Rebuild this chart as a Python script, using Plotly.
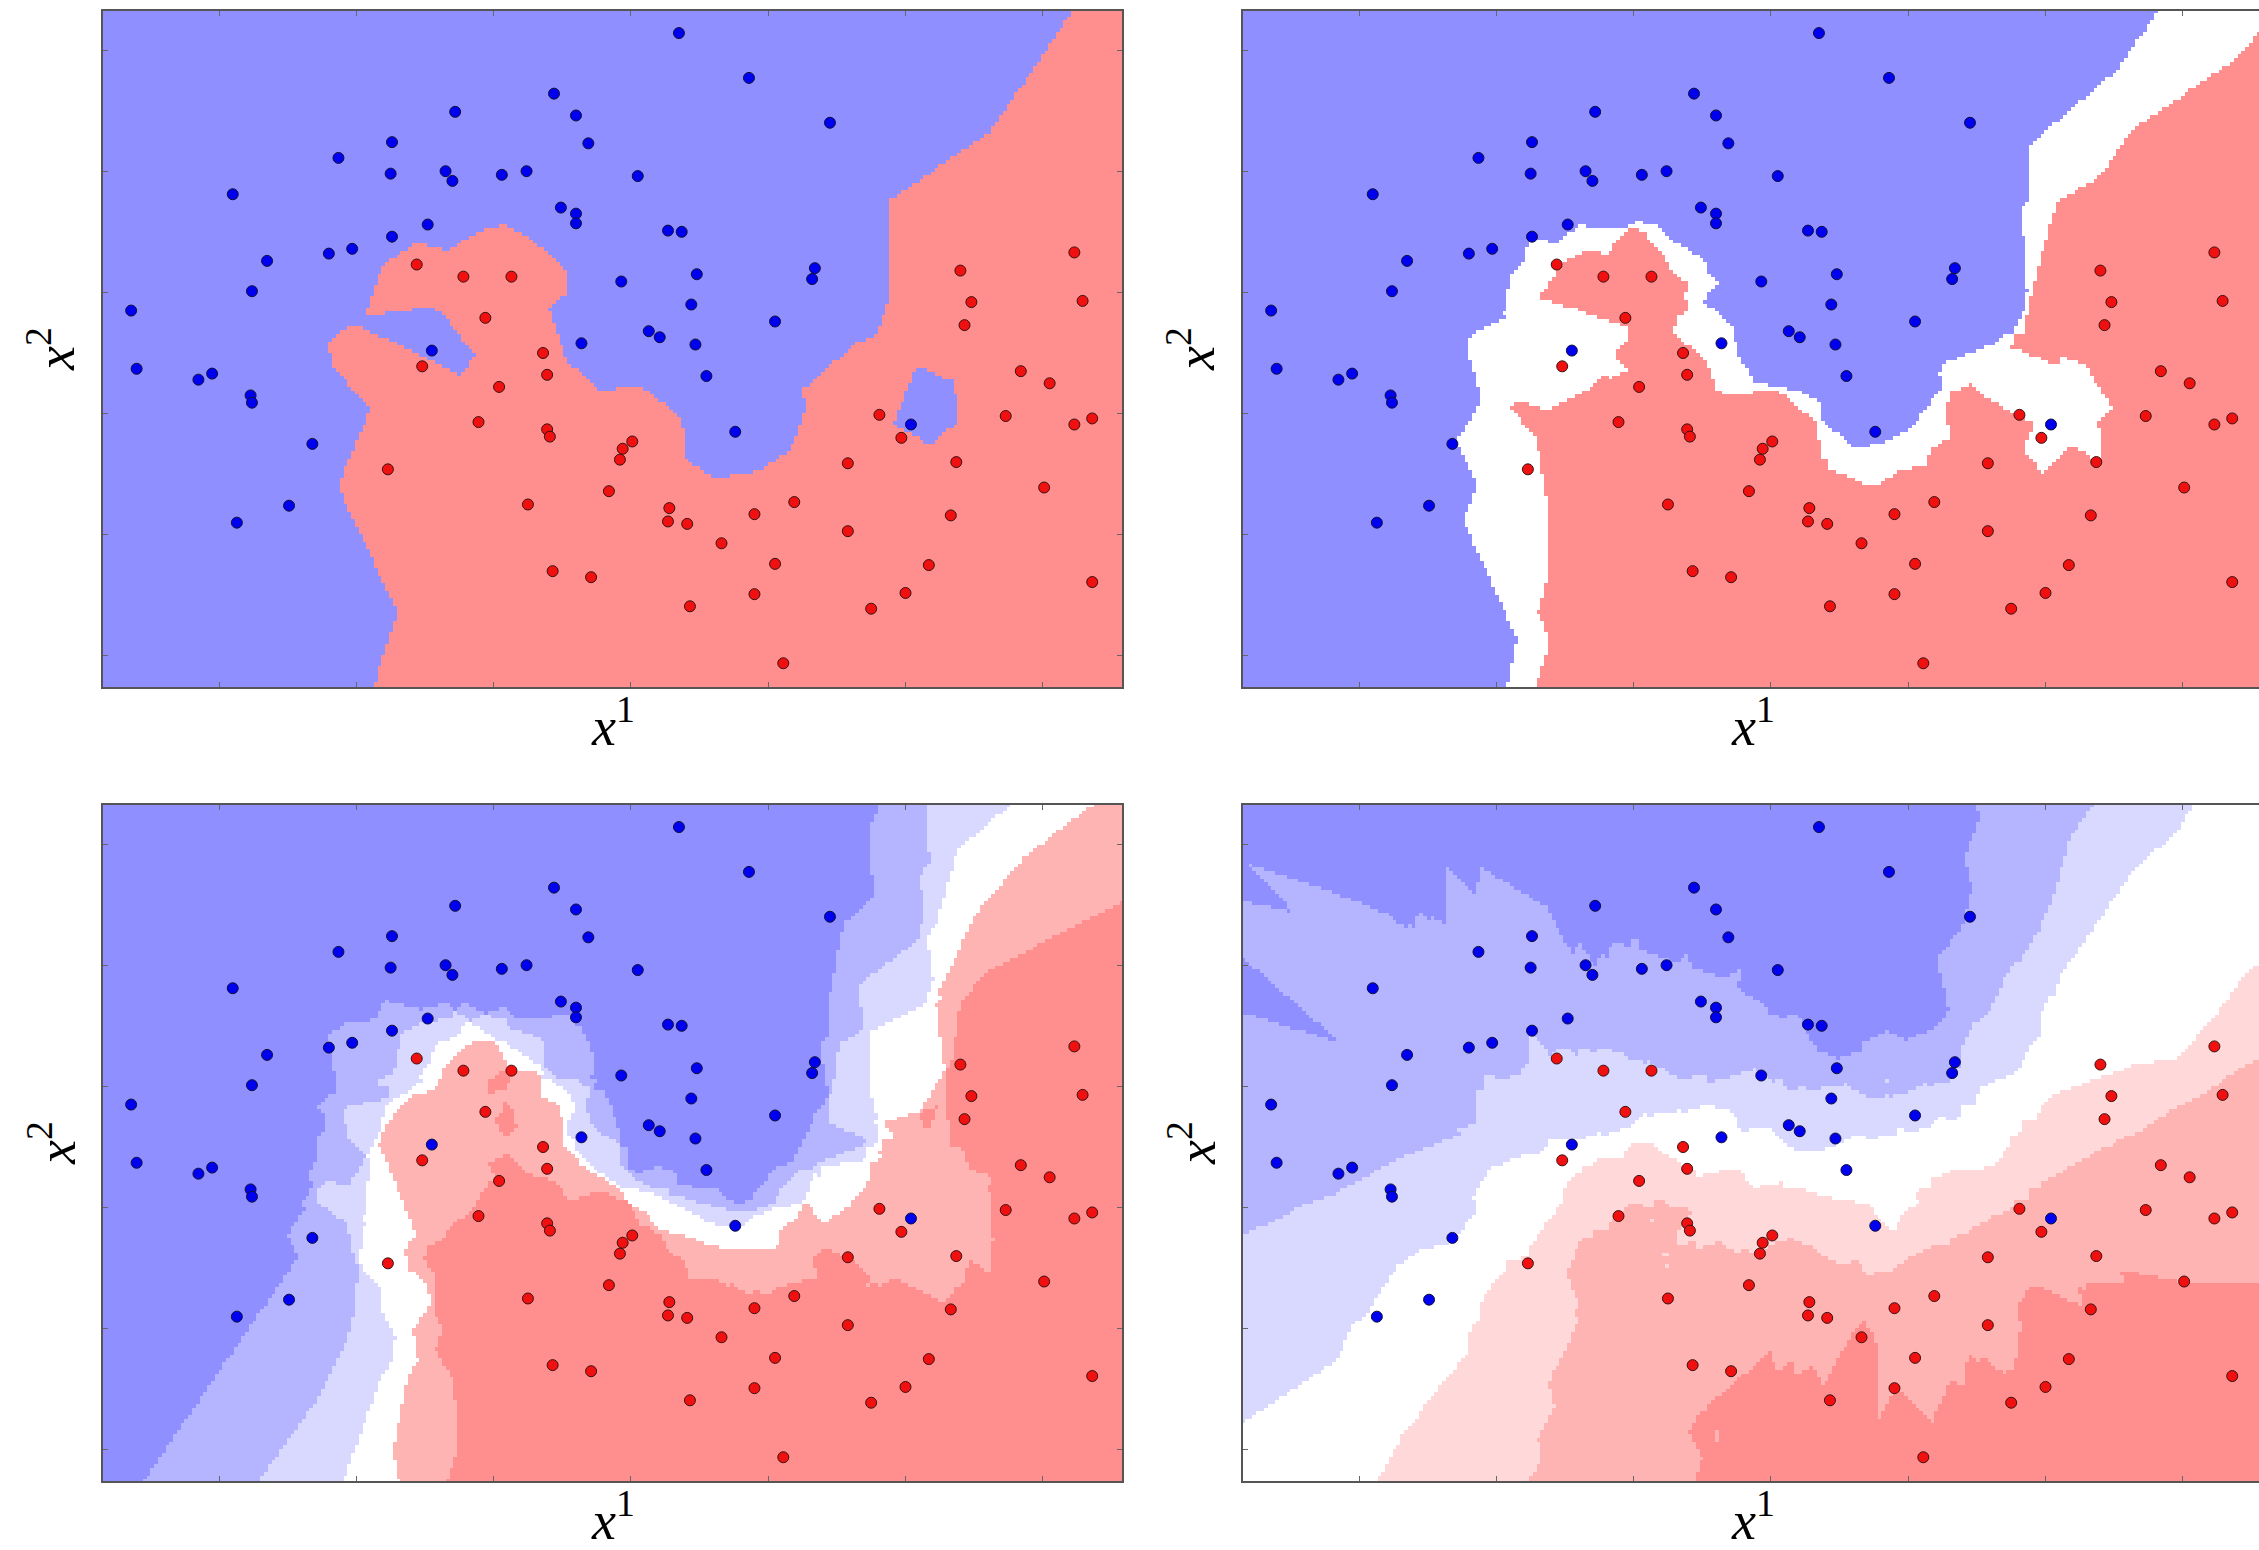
import numpy as np
import plotly.graph_objects as go

# ---------------- data ----------------
blue_x = [3.35, 3.86, 4.45, 1.72, 2.44, 2.60, 2.69, 1.26, 0.87, 1.25,
          1.65, 1.70, 2.06, 2.24, 3.05, 0.10, 2.49, 2.60, 2.60, 1.26,
          1.52, 3.27, 3.37, 0.35, 0.24, 0.80, 0.97, 2.93, 3.48, 4.34,
          4.32, 3.44, 4.05, -0.64, 2.64, 3.21, 3.13, 3.47, 1.55, 3.55,
          -0.60, -0.15, -0.05, 0.23, 0.24, 3.76, 5.04, 0.68, 0.51, 0.13]
blue_y = [5.14, 4.77, 4.40, 4.49, 4.64, 4.46, 4.23, 4.24, 4.11, 3.98,
          4.00, 3.92, 3.97, 4.00, 3.96, 3.81, 3.70, 3.65, 3.57, 3.46,
          3.56, 3.51, 3.50, 3.26, 3.01, 3.32, 3.36, 3.09, 3.15, 3.20,
          3.11, 2.90, 2.76, 2.85, 2.58, 2.63, 2.68, 2.57, 2.52, 2.31,
          2.37, 2.28, 2.33, 2.15, 2.09, 1.85, 1.91, 1.75, 1.24, 1.10]
red_x = [1.44, 1.78, 2.13, 1.94, 2.36, 6.23, 5.40, 6.29, 5.48, 5.43,
         1.48, 1.23, 2.39, 2.04, 1.89, 2.39, 2.41, 3.01, 2.94, 2.92,
         2.84, 2.25, 3.28, 3.27, 3.41, 3.90, 4.19, 3.66, 4.05, 2.43,
         2.71, 3.90, 3.43, 4.11, 5.84, 6.05, 4.81, 5.73, 6.36, 6.23,
         4.97, 4.58, 5.37, 6.01, 5.33, 4.58, 5.17, 6.36, 5.00, 4.75]
red_y = [3.23, 3.13, 3.13, 2.79, 2.50, 3.33, 3.18, 2.93, 2.92, 2.73,
         2.39, 1.54, 2.32, 2.22, 1.93, 1.87, 1.81, 1.77, 1.71, 1.62,
         1.36, 1.25, 1.22, 1.11, 1.09, 1.17, 1.27, 0.93, 0.76, 0.70,
         0.65, 0.51, 0.41, -0.06, 2.35, 2.25, 1.99, 1.98, 1.96, 1.91,
         1.80, 1.59, 1.60, 1.39, 1.16, 1.03, 0.75, 0.61, 0.52, 0.39]

# number of neighbours used for the shading of each panel
panel_k = [1, 2, 5, 28]
# shading bands (fraction of red neighbours)
band_edges = [0.15, 0.30, 0.45, 0.60 + 1e-9, 0.75, 0.90]
band_colors = ["#8f8fff", "#b4b4ff", "#d9d9ff", "#ffffff",
               "#ffd9d9", "#ffb4b4", "#ff8f8f"]

# ---------------- layout geometry ----------------
W, H = 2259, 1550
xr_left = [-0.845, 6.577]
xr_right = [-0.845, 6.555]
yr = [-0.256, 5.322]
dom_x = [[103 / W, 1122 / W], [1243 / W, 1.0]]
dom_y = [[1 - 687 / H, 1 - 11 / H], [1 - 1481 / H, 1 - 805 / H]]

# ---------------- classifier surface ----------------
px = np.array(blue_x + red_x)
py = np.array(blue_y + red_y)
lab = np.array([0] * len(blue_x) + [1] * len(red_x), dtype=float)

nx, ny = 270, 180
gx = np.linspace(xr_left[0], xr_left[1], nx)
gy = np.linspace(yr[0], yr[1], ny)
GX, GY = np.meshgrid(gx, gy)
d2 = (GX.ravel()[:, None] - px[None, :]) ** 2 + (GY.ravel()[:, None] - py[None, :]) ** 2
order = np.argsort(d2, axis=1, kind="stable")

cs = []
n = len(band_colors)
for i, c in enumerate(band_colors):
    cs.append([i / n, c])
    cs.append([(i + 1) / n, c])

fig = go.Figure()
for i, k in enumerate(panel_k):
    r, c = divmod(i, 2)
    ax = "" if i == 0 else str(i + 1)
    p = lab[order[:, :k]].mean(axis=1)
    band = np.digitize(p, band_edges).reshape(ny, nx)
    fig.add_trace(go.Heatmap(x=gx, y=gy, z=band, colorscale=cs, zmin=-0.5, zmax=n - 0.5,
                             showscale=False, hoverinfo="skip", zsmooth=False,
                             xaxis="x" + ax, yaxis="y" + ax))
    fig.add_trace(go.Scatter(x=blue_x, y=blue_y, mode="markers",
                             marker=dict(color="#0000f0", size=11,
                                         line=dict(color="#10103a", width=1)),
                             showlegend=False, xaxis="x" + ax, yaxis="y" + ax))
    fig.add_trace(go.Scatter(x=red_x, y=red_y, mode="markers",
                             marker=dict(color="#f01010", size=11,
                                         line=dict(color="#3a1010", width=1)),
                             showlegend=False, xaxis="x" + ax, yaxis="y" + ax))
    common = dict(showgrid=False, zeroline=False, showticklabels=False,
                  ticks="inside", ticklen=5, tickwidth=1, tickcolor="#666",
                  tick0=0, dtick=1, showline=True, linecolor="#555", linewidth=1.5)
    fig.layout["xaxis" + ax] = dict(domain=dom_x[c], range=xr_left if c == 0 else xr_right,
                                    anchor="y" + ax, mirror="ticks", **common)
    fig.layout["yaxis" + ax] = dict(domain=dom_y[r], range=yr, anchor="x" + ax,
                                    mirror="ticks" if c == 0 else False, **common)

# axis labels
lab_font = dict(family="Liberation Serif, DejaVu Serif, serif", size=54, color="black")
for r in range(2):
    for c in range(2):
        cx = (612.5 + 1140 * c) / W
        fig.add_annotation(text="<i>x</i><sup>1</sup>", xref="paper", yref="paper",
                           x=cx, y=1 - (722 + 794 * r) / H, showarrow=False,
                           xanchor="center", yanchor="middle", font=lab_font)
        fig.add_annotation(text="<i>x</i><sup>2</sup>", xref="paper", yref="paper",
                           x=(52 + 1140 * c) / W, y=1 - (349 + 794 * r) / H, showarrow=False,
                           textangle=-90, xanchor="center", yanchor="middle", font=lab_font)

fig.update_layout(width=W, height=H, margin=dict(l=0, r=0, t=0, b=0),
                  paper_bgcolor="white", plot_bgcolor="white", showlegend=False)
fig.write_html("out.html", config={"displayModeBar": False},
               post_script="document.body.style.margin='0';document.body.style.overflow='hidden';")
